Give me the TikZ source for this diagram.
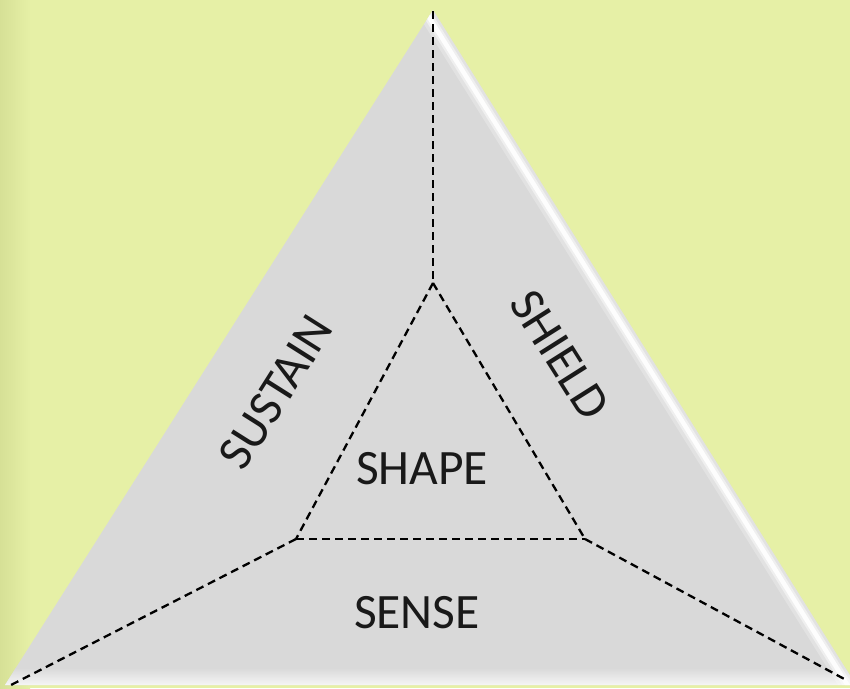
\documentclass[tikz,border=0pt]{standalone}
\usepackage{fontspec}
\setmainfont{Carlito}
\definecolor{bgyellow}{RGB}{230,240,166}
\definecolor{bgdark}{RGB}{214,224,150}
\definecolor{trigray}{RGB}{217,217,217}
\tikzset{
  dashline/.style={black, line width=2.3pt, dash pattern=on 8pt off 5pt, line join=round},
  lbl/.style={font=\fontsize{49.5}{60}\selectfont, inner sep=0pt, text=black!90},
}
\begin{document}
\begin{tikzpicture}[x=1pt,y=-1pt]
\useasboundingbox (0,0) rectangle (850,688);
\fill[bgyellow] (0,0) rectangle (850,688);
\shade[left color=bgdark, right color=bgyellow] (0,0) rectangle (30,688);
\coordinate (A) at (433,10);
\coordinate (L) at (5,685);
\coordinate (R) at (856,685);
\fill[trigray] (A) -- (L) -- (R) -- cycle;
\begin{scope}
  \clip (A) -- (L) -- (R) -- cycle;
  \shade[top color=trigray, bottom color=white!75!trigray] (0,668) rectangle (850,685);
  \coordinate (H1) at (427,14);
  \coordinate (H2) at (850,689);
  \draw[white, opacity=0.25, line width=16pt] (H1) -- (H2);
  \draw[white, opacity=0.45, line width=9pt] (H1) -- (H2);
  \draw[white, opacity=0.9, line width=4.5pt] (H1) -- (H2);
\end{scope}
\coordinate (T) at (433,11);
\coordinate (I1) at (433,283);
\coordinate (I2) at (296,539);
\coordinate (I3) at (585,539);
\coordinate (LE) at (9,686);
\coordinate (RE) at (848,681);
\draw[dashline] (T) -- (I1);
\draw[dashline] (I1) -- (I2);
\draw[dashline] (I1) -- (I3);
\draw[dashline] (I2) -- (I3);
\draw[dashline] (I2) -- (LE);
\draw[dashline] (I3) -- (RE);
\node[lbl, rotate=57.7] (sustain) at (276,392) {SUSTAIN};
\node[lbl, rotate=-57.7] (shield) at (560,355) {SHIELD};
\node[lbl] (shape) at (422,469) {SHAPE};
\node[lbl] (sense) at (417,613) {SENSE};
\end{tikzpicture}
\end{document}
